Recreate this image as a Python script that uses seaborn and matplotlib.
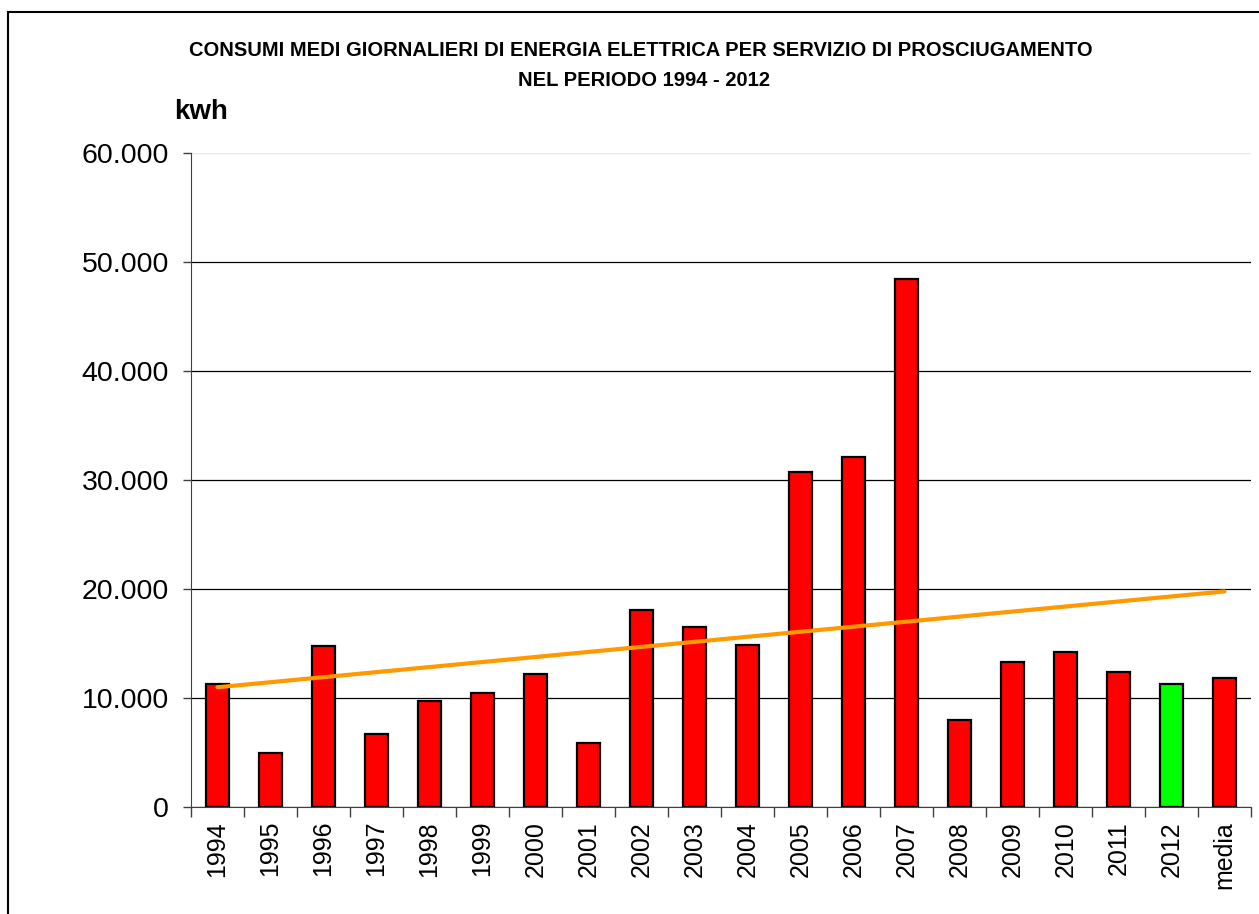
import numpy as np
import pandas as pd
import seaborn as sns
import matplotlib.pyplot as plt
from matplotlib.patches import Rectangle
from matplotlib.ticker import FuncFormatter, FixedLocator

# dati (kwh medi giornalieri)
anni = ["1994", "1995", "1996", "1997", "1998", "1999", "2000", "2001", "2002", "2003",
        "2004", "2005", "2006", "2007", "2008", "2009", "2010", "2011", "2012", "media"]
consumi = [11300, 4980, 14770, 6670, 9750, 10500, 12170, 5900, 18070, 16500,
           14900, 30760, 32100, 48400, 7980, 13270, 14200, 12360, 11260, 11830]
colori = ["#FF0000"] * 18 + ["#00FF00", "#FF0000"]

df = pd.DataFrame({"anno": anni, "kwh": consumi})

sns.set_style("white")
plt.rcParams["font.family"] = ["Liberation Sans", "DejaVu Sans"]
plt.rcParams["text.color"] = "black"
plt.rcParams["xtick.color"] = "black"
plt.rcParams["ytick.color"] = "black"

fig = plt.figure(figsize=(12.59, 9.14), dpi=100)
ax = fig.add_axes([191 / 1259, 1 - 807 / 914, 1060 / 1259, 654 / 914])

# barre
sns.barplot(data=df, x="anno", y="kwh", hue="anno", palette=colori, legend=False,
            width=0.44, edgecolor="black", linewidth=1.6, saturation=1, ax=ax)

# linea di tendenza (regressione lineare come in Excel)
x = np.arange(len(consumi))
coef = np.polyfit(x + 1, consumi, 1)
ax.plot(x, np.polyval(coef, x + 1), color="#FF9900", lw=3, solid_capstyle="round", zorder=5)

ax.set_xlim(-0.5, len(anni) - 0.5)
ax.set_ylim(0, 60000)
ax.set_yticks(range(0, 60001, 10000))
ax.yaxis.set_major_formatter(FuncFormatter(lambda v, p: f"{v:,.0f}".replace(",", ".")))

ax.set_axisbelow(True)
ax.grid(axis="y", color="black", lw=0.9)
ax.yaxis.get_gridlines()[-1].set_color("#e6e6e6")

for s in ["top", "right"]:
    ax.spines[s].set_visible(False)
ax.spines["left"].set_color("#404040")
ax.spines["bottom"].set_color("#404040")

ax.tick_params(axis="y", labelsize=20.5, length=6, width=1, color="#404040", labelcolor="black",
               direction="out", left=True, pad=10)
ax.tick_params(axis="x", which="major", labelsize=18, length=0, rotation=90, pad=10,
               labelcolor="black")
ax.xaxis.set_minor_locator(FixedLocator(np.arange(-0.5, len(anni), 1)))
ax.tick_params(axis="x", which="minor", length=7, width=1, color="#404040", bottom=True)
ax.set_xlabel("")
ax.set_ylabel("")

# titoli
fig.text(641 / 1259, 1 - 50 / 914,
         "CONSUMI MEDI GIORNALIERI DI ENERGIA ELETTRICA PER SERVIZIO DI PROSCIUGAMENTO",
         ha="center", va="center", fontsize=14.5, fontweight="bold", color="black")
fig.text(644 / 1259, 1 - 80 / 914, "NEL PERIODO 1994 - 2012",
         ha="center", va="center", fontsize=14.5, fontweight="bold", color="black")
fig.text(174 / 1259, 1 - 112 / 914, "kwh", ha="left", va="center", fontsize=20,
         fontweight="bold", color="black")

# cornice esterna
fig.patches.append(Rectangle((8 / 1259, -0.1), 1.1, 1.1 - 12 / 914, transform=fig.transFigure,
                             fill=False, edgecolor="black", lw=1.5))

fig.savefig("out.png", dpi=100)
